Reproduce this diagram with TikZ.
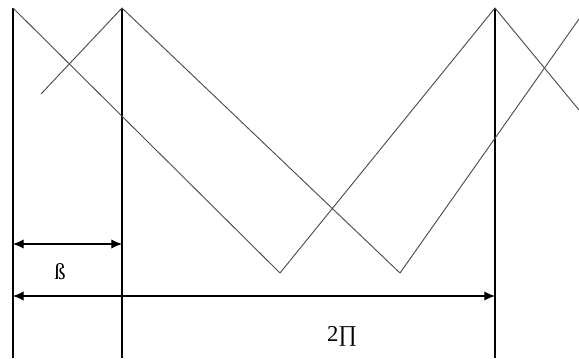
\documentclass[tikz,border=0pt]{standalone}
\usepackage{fontspec}
\setmainfont{Liberation Serif}
\usetikzlibrary{arrows.meta}
\begin{document}
\begin{tikzpicture}[x=0.75pt, y=-0.75pt,
    wave/.style={draw=black!70, line width=0.7pt},
    bar/.style={draw=black, line width=0.8pt},
    dimline/.style={{Latex[length=8pt,width=7pt]}-{Latex[length=8pt,width=7pt]}, line width=0.8pt},
    lbl/.style={font=\fontsize{17}{19}\selectfont, inner sep=0pt}]
  \useasboundingbox (0,0) rectangle (579,358);
  % vertical markers
  \coordinate (t0) at (13,8);   \coordinate (f0) at (13,358);
  \coordinate (t1) at (122,8);  \coordinate (f1) at (122,358);
  \coordinate (t2) at (495,8);  \coordinate (f2) at (495,358);
  \draw[bar] (t0) -- (f0);
  \draw[bar] (t1) -- (f1);
  \draw[bar] (t2) -- (f2);
  % first wave
  \coordinate (v1) at (280,273);
  \coordinate (e1) at (579,110);
  \draw[wave] (t0) -- (v1) -- (t2) -- (e1);
  % shifted wave
  \coordinate (s2) at (41,94);
  \coordinate (v2) at (400,273);
  \coordinate (e2) at (579,19);
  \draw[wave] (s2) -- (t1) -- (v2) -- (e2);
  % dimensions
  \coordinate (b0) at (13,244);  \coordinate (b1) at (122,244);
  \coordinate (p0) at (13,296);  \coordinate (p1) at (495,296);
  \draw[dimline] (b0) -- (b1);
  \draw[dimline] (p0) -- (p1);
  \node[lbl] (beta) at (60,272) {ß};
  \node[lbl] (twopi) at (342,336) {2∏};
\end{tikzpicture}
\end{document}
